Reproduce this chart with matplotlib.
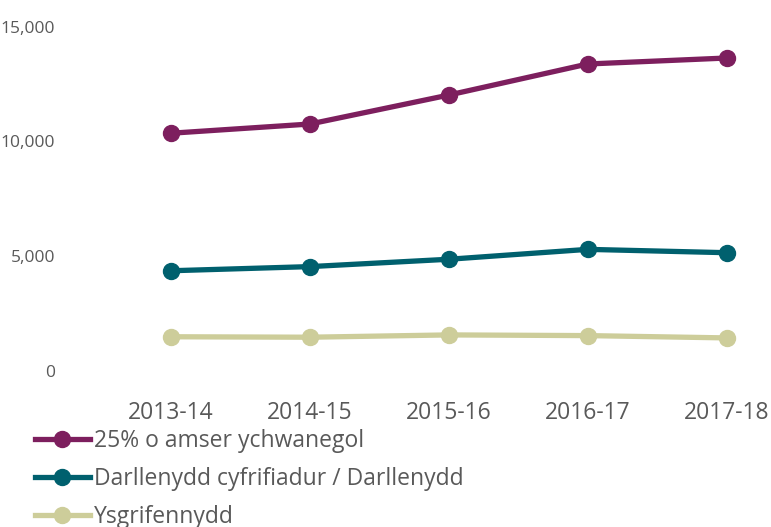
import matplotlib.pyplot as plt
from matplotlib.ticker import FuncFormatter

years = ["2013-14", "2014-15", "2015-16", "2016-17", "2017-18"]
extra_time = [10360, 10760, 12020, 13370, 13630]
reader = [4380, 4560, 4880, 5310, 5165]
scribe = [1510, 1490, 1590, 1560, 1460]

labels = ["25% o amser ychwanegol", "Darllenydd cyfrifiadur / Darllenydd", "Ysgrifennydd"]
colors = ["#7D1F5E", "#00606E", "#CDCD9A"]

plt.rcParams['font.family'] = ['Open Sans', 'DejaVu Sans']
grey = "#595959"

fig = plt.figure(figsize=(7.71, 5.27), dpi=100)
ax = fig.add_axes([60 / 771, 0.2951, 711 / 771, 0.6546])

x = range(len(years))
for vals, lab, col in zip([extra_time, reader, scribe], labels, colors):
    ax.plot(x, vals, color=col, lw=3.8, marker='o', ms=11.5, label=lab, clip_on=False)

ax.set_ylim(0, 15000)
ax.set_xlim(-0.8, 4.32)
ax.set_yticks([0, 5000, 10000, 15000])
ax.yaxis.set_major_formatter(FuncFormatter(lambda v, p: f"{int(v):,}"))
ax.set_xticks(list(x))
ax.set_xticklabels(years)
ax.tick_params(axis='both', length=0, labelcolor=grey)
ax.tick_params(axis='x', pad=21, labelsize=16.5)
ax.tick_params(axis='y', pad=3.5, labelsize=12.5)
for s in ax.spines.values():
    s.set_visible(False)

fig.legend(loc='upper left', bbox_to_anchor=(0.045, 0.186), frameon=False,
           fontsize=16.5, labelcolor=grey, handlelength=2.4, handletextpad=0.17,
           labelspacing=0.62, borderpad=0, borderaxespad=0)

fig.savefig("out.png", dpi=100)
